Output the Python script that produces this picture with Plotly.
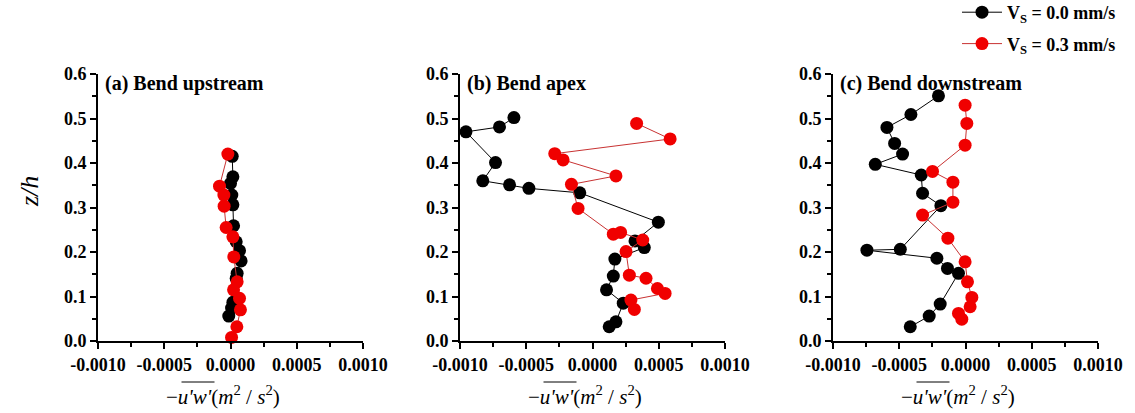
import plotly.graph_objects as go

# Reynolds shear stress profiles at three bend sections
x_ticks = [-0.0010, -0.0005, 0.0, 0.0005, 0.0010]
x_tick_labels = ["-0.0010", "-0.0005", "0.0000", "0.0005", "0.0010"]
y_ticks = [0.0, 0.1, 0.2, 0.3, 0.4, 0.5, 0.6]
y_tick_labels = ["0.0", "0.1", "0.2", "0.3", "0.4", "0.5", "0.6"]

series_names = ["V<sub>S</sub> = 0.0 mm/s", "V<sub>S</sub> = 0.3 mm/s"]
panel_titles = ["(a) Bend upstream", "(b) Bend apex", "(c) Bend downstream"]

# (a) Bend upstream
za_00 = [0.415, 0.369, 0.354, 0.328, 0.306, 0.259, 0.223, 0.203, 0.180, 0.152, 0.141, 0.087, 0.074, 0.056]
uw_a_00 = [0.000013, 0.000018, 0.000000, 0.000010, 0.000018, 0.000023, 0.000043, 0.000068, 0.000080,
           0.000050, 0.000043, 0.000018, 0.000008, -0.000013]
za_03 = [0.420, 0.348, 0.328, 0.303, 0.255, 0.234, 0.189, 0.133, 0.115, 0.096, 0.070, 0.032, 0.008]
uw_a_03 = [-0.000020, -0.000083, -0.000050, -0.000048, -0.000033, 0.000018, 0.000025, 0.000050,
           0.000023, 0.000068, 0.000075, 0.000048, 0.000008]

# (b) Bend apex
zb_00 = [0.502, 0.481, 0.470, 0.401, 0.360, 0.351, 0.343, 0.333, 0.267, 0.225, 0.210, 0.184, 0.146,
         0.115, 0.085, 0.043, 0.032]
uw_b_00 = [-0.000593, -0.000702, -0.000955, -0.000732, -0.000828, -0.000626, -0.000480, -0.000096,
           0.000497, 0.000321, 0.000391, 0.000169, 0.000157, 0.000106, 0.000232, 0.000177, 0.000126]
zb_03 = [0.489, 0.454, 0.421, 0.407, 0.371, 0.352, 0.298, 0.240, 0.244, 0.227, 0.201, 0.148, 0.141,
         0.118, 0.107, 0.092, 0.071]
uw_b_03 = [0.000333, 0.000586, -0.000285, -0.000222, 0.000177, -0.000159, -0.000109, 0.000157,
           0.000212, 0.000379, 0.000253, 0.000278, 0.000404, 0.000490, 0.000548, 0.000290, 0.000316]

# (c) Bend downstream
zc_00 = [0.551, 0.509, 0.480, 0.444, 0.420, 0.397, 0.373, 0.332, 0.304, 0.206, 0.204, 0.186, 0.163,
         0.152, 0.083, 0.056, 0.032]
uw_c_00 = [-0.000204, -0.000412, -0.000593, -0.000535, -0.000475, -0.000681, -0.000334, -0.000324,
           -0.000186, -0.000492, -0.000744, -0.000216, -0.000136, -0.000053, -0.000191, -0.000274,
           -0.000417]
zc_03 = [0.530, 0.489, 0.440, 0.381, 0.357, 0.312, 0.283, 0.231, 0.178, 0.133, 0.098, 0.077, 0.062, 0.049]
uw_c_03 = [-0.000003, 0.000010, -0.000003, -0.000249, -0.000095, -0.000095, -0.000324, -0.000133,
           -0.000003, 0.000015, 0.000048, 0.000035, -0.000053, -0.000028]

panels = [
    (uw_a_00, za_00, uw_a_03, za_03),
    (uw_b_00, zb_00, uw_b_03, zb_03),
    (uw_c_00, zc_00, uw_c_03, zc_03),
]

SERIF = "Liberation Serif"
BLACK = "#000000"
RED = "#f00000"
RED_LINE = "#c83232"

# geometry in pixels
W, H = 1135, 413
ML, MR, MT, MB = 98, 37, 74, 72
PW = W - ML - MR
PH = H - MT - MB
panel_px = [(98, 363), (460, 725), (833, 1098)]
domains = [[(a - ML) / PW, (b - ML) / PW] for a, b in panel_px]


def px_x(px):
    return (px - ML) / PW


def px_y(py):
    return (H - MB - py) / PH


fig = go.Figure()

for i, (x0, y0, x3, y3) in enumerate(panels):
    xa = "x" if i == 0 else f"x{i + 1}"
    ya = "y" if i == 0 else f"y{i + 1}"
    fig.add_trace(go.Scatter(
        x=x0, y=y0, xaxis=xa, yaxis=ya, mode="lines+markers", name=series_names[0],
        legendgroup="s0", showlegend=(i == 0),
        line=dict(color=BLACK, width=1),
        marker=dict(color=BLACK, size=13, line=dict(width=0)),
        cliponaxis=False,
    ))
    fig.add_trace(go.Scatter(
        x=x3, y=y3, xaxis=xa, yaxis=ya, mode="lines+markers", name=series_names[1],
        legendgroup="s3", showlegend=(i == 0),
        line=dict(color=RED_LINE, width=1),
        marker=dict(color=RED, size=13, line=dict(width=0)),
        cliponaxis=False,
    ))

tick_font = dict(family=SERIF, size=18, color="black", weight="bold")
layout_axes = {}
for i in range(3):
    suffix = "" if i == 0 else str(i + 1)
    layout_axes[f"xaxis{suffix}"] = dict(
        domain=domains[i], anchor=f"y{suffix}", range=[-0.001, 0.001],
        tickvals=x_ticks, ticktext=x_tick_labels, tickfont=tick_font,
        ticks="outside", ticklen=6, tickwidth=1.5, tickcolor="black",
        minor=dict(dtick=0.00025, tick0=0, ticks="outside", ticklen=4, tickwidth=1.5, tickcolor="black"),
        showline=True, linecolor="black", linewidth=2,
        showgrid=False, zeroline=False, fixedrange=True,
    )
    layout_axes[f"yaxis{suffix}"] = dict(
        domain=[0, 1], anchor=f"x{suffix}", range=[0, 0.6],
        tickvals=y_ticks, ticktext=y_tick_labels, tickfont=tick_font,
        ticks="outside", ticklen=6, tickwidth=1.5, tickcolor="black",
        minor=dict(dtick=0.05, tick0=0, ticks="outside", ticklen=4, tickwidth=1.5, tickcolor="black"),
        showline=True, linecolor="black", linewidth=2,
        showgrid=False, zeroline=False, fixedrange=True,
    )

annotations = []
shapes = []
for i, (a, b) in enumerate(panel_px):
    # panel title
    annotations.append(dict(
        xref="paper", yref="paper", x=px_x(a + 5), y=px_y(83), xanchor="left", yanchor="middle",
        text=panel_titles[i], showarrow=False,
        font=dict(family=SERIF, size=20, color="black", weight="bold"),
    ))
    # x-axis title
    cx = (a + b) / 2 - 8
    annotations.append(dict(
        xref="paper", yref="paper", x=px_x(cx), y=px_y(395), xanchor="center", yanchor="middle",
        text="\u2212<i>u'w'</i>(<i>m</i><sup>2</sup> / <i>s</i><sup>2</sup>)", showarrow=False,
        font=dict(family=SERIF, size=21, color="black"),
    ))
    # overbar on u'w'
    shapes.append(dict(
        type="line", xref="paper", yref="paper",
        x0=px_x(cx - 41), x1=px_x(cx - 8), y0=px_y(382), y1=px_y(382),
        line=dict(color="black", width=1),
    ))

annotations.append(dict(
    xref="paper", yref="paper", x=px_x(29), y=px_y(192), xanchor="center", yanchor="middle",
    text="<i>z/h</i>", textangle=-90, showarrow=False,
    font=dict(family=SERIF, size=26, color="black"),
))

fig.update_layout(
    width=W, height=H,
    margin=dict(l=ML, r=MR, t=MT, b=MB, pad=0, autoexpand=False),
    paper_bgcolor="white", plot_bgcolor="white",
    showlegend=True,
    legend=dict(
        x=px_x(957), y=px_y(-6), xanchor="left", yanchor="top",
        font=dict(family=SERIF, size=18, color="black", weight="bold"),
        bgcolor="rgba(0,0,0,0)", tracegroupgap=5, itemwidth=40,
    ),
    annotations=annotations,
    shapes=shapes,
    **layout_axes,
)

fig.write_html("out.html")
